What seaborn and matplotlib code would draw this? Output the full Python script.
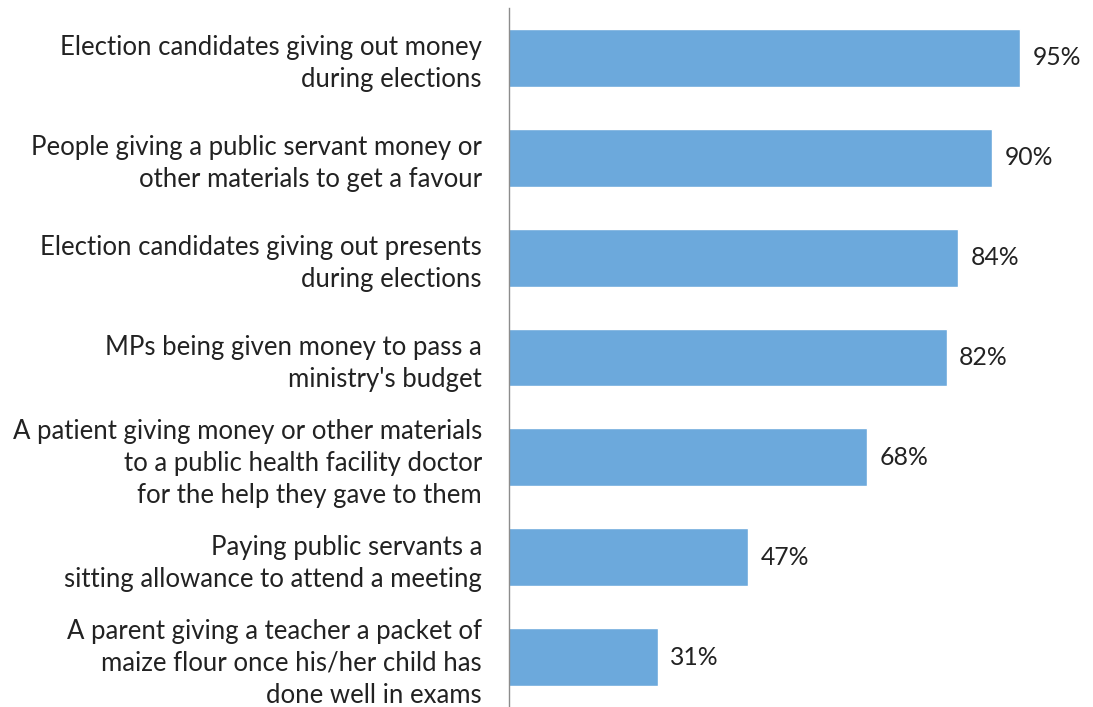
import matplotlib
matplotlib.use("Agg")
import matplotlib.pyplot as plt
import seaborn as sns
import pandas as pd

categories = [
    "Election candidates giving out money\nduring elections",
    "People giving a public servant money or\nother materials to get a favour",
    "Election candidates giving out presents\nduring elections",
    "MPs being given money to pass a\nministry's budget",
    "A patient giving money or other materials\nto a public health facility doctor\nfor the help they gave to them",
    "Paying public servants a\nsitting allowance to attend a meeting",
    "A parent giving a teacher a packet of\nmaize flour once his/her child has\ndone well in exams",
]
values = [95, 90, 84, 82, 68, 47, 31]
value_labels = ["95%", "90%", "84%", "82%", "68%", "47%", "31%"]

sns.set_theme(style="white")
plt.rcParams["font.family"] = ["Lato", "DejaVu Sans"]

df = pd.DataFrame({"category": categories, "value": values})

fig = plt.figure(figsize=(10.93, 7.07), dpi=100)
ax = fig.add_axes([0.4657, 0.0, 0.4935, 0.9887])

sns.barplot(data=df, x="value", y="category", orient="h", color="#6CA9DC",
            saturation=1, width=0.58, ax=ax)

ax.set_xlim(4.7, 100)
ax.set_ylim(6.5, -0.5)

for i, (v, lab) in enumerate(zip(values, value_labels)):
    ax.annotate(lab, xy=(v, i), xytext=(9, 0), textcoords="offset points",
                ha="left", va="center", fontsize=17.8, color="#222222")

ax.set_xlabel("")
ax.set_ylabel("")
ax.set_xticks([])
ax.tick_params(axis="y", length=0, pad=19.5)
for t in ax.get_yticklabels():
    t.set_fontsize(18.5)
    t.set_color("#222222")
    t.set_linespacing(1.35)
    t.set_ha("right")

for side in ["top", "right", "bottom"]:
    ax.spines[side].set_visible(False)
ax.spines["left"].set_color("#8C8C8C")
ax.spines["left"].set_linewidth(1.0)

fig.savefig("out.png", dpi=100)
